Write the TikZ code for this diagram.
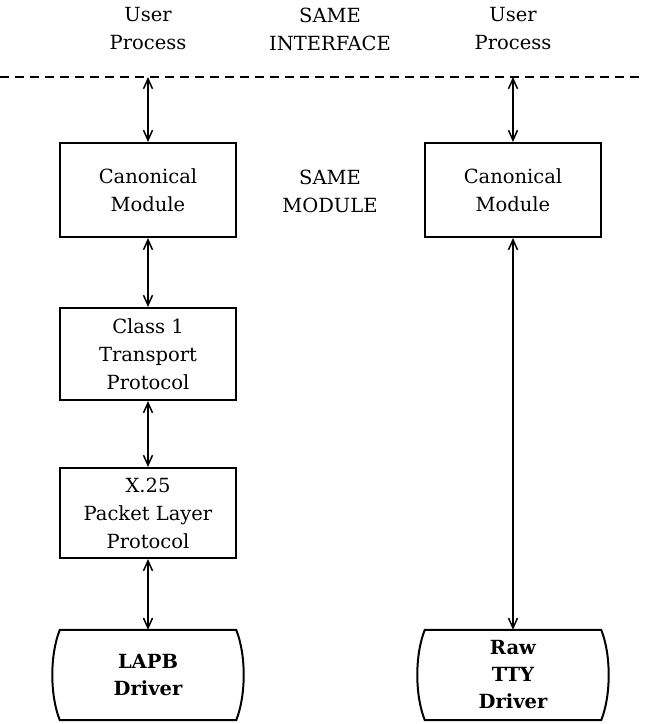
\documentclass[tikz,border=0pt]{standalone}
\usepackage{fontspec}
\setmainfont{DejaVu Serif}
\usetikzlibrary{arrows.meta,calc}
\begin{document}
\begin{tikzpicture}[x=1pt,y=-1pt,
  box/.style={draw,line width=2pt,minimum width=176pt,minimum height=92pt,inner sep=0pt,align=center,font=\fontsize{19.5}{28}\selectfont},
  drv/.style={minimum width=176pt,minimum height=90pt,inner sep=0pt,align=center,font=\bfseries\fontsize{19.5}{27}\selectfont},
  drvline/.style={line width=2pt},
  lbl/.style={align=center,font=\fontsize{19.5}{28}\selectfont},
  link/.style={line width=1.5pt,{Straight Barb[length=10pt,width=9pt,line width=1.5pt]}-{Straight Barb[length=10pt,width=9pt,line width=1.5pt]}},
  iface/.style={line width=1.5pt,dash pattern=on 9pt off 6pt}]
\useasboundingbox (0,0) rectangle (645,724);

% top labels
\node[lbl] (up1) at (148,29) {User\\Process};
\node[lbl] (same1) at (330,29) {SAME\\INTERFACE};
\node[lbl] (up2) at (513,29) {User\\Process};
\node[lbl] (same2) at (330,191) {SAME\\MODULE};

% interface line
\coordinate (dl) at (0,77);
\coordinate (dr) at (645,77);
\coordinate (t1) at (148,77);
\coordinate (t2) at (513,77);
\draw[iface] (dl) -- (dr);

% left stack
\node[box,minimum height=94pt] (can1) at (148,190) {Canonical\\Module};
\node[box] (cls) at (148,354) {Class 1\\Transport\\Protocol};
\node[box,minimum height=90pt] (x25) at (148,513) {X.25\\Packet Layer\\Protocol};
\node[drv] (lapb) at (148,675) {LAPB\\Driver};
\draw[drvline] (lapb.north west) -- (lapb.north east)
  .. controls +(10,25) and +(10,-25) .. (lapb.south east)
  -- (lapb.south west)
  .. controls +(-10,-25) and +(-10,25) .. (lapb.north west) -- cycle;

% right stack
\node[box,minimum height=94pt] (can2) at (513,190) {Canonical\\Module};
\node[drv] (tty) at (513,675) {Raw\\TTY\\Driver};
\draw[drvline] (tty.north west) -- (tty.north east)
  .. controls +(10,25) and +(10,-25) .. (tty.south east)
  -- (tty.south west)
  .. controls +(-10,-25) and +(-10,25) .. (tty.north west) -- cycle;

% connectors
\draw[link] (t1) -- (can1.north);
\draw[link] (can1.south) -- (cls.north);
\draw[link] (cls.south) -- (x25.north);
\draw[link] (x25.south) -- (lapb.north);
\draw[link] (t2) -- (can2.north);
\draw[link] (can2.south) -- (tty.north);
\end{tikzpicture}
\end{document}
